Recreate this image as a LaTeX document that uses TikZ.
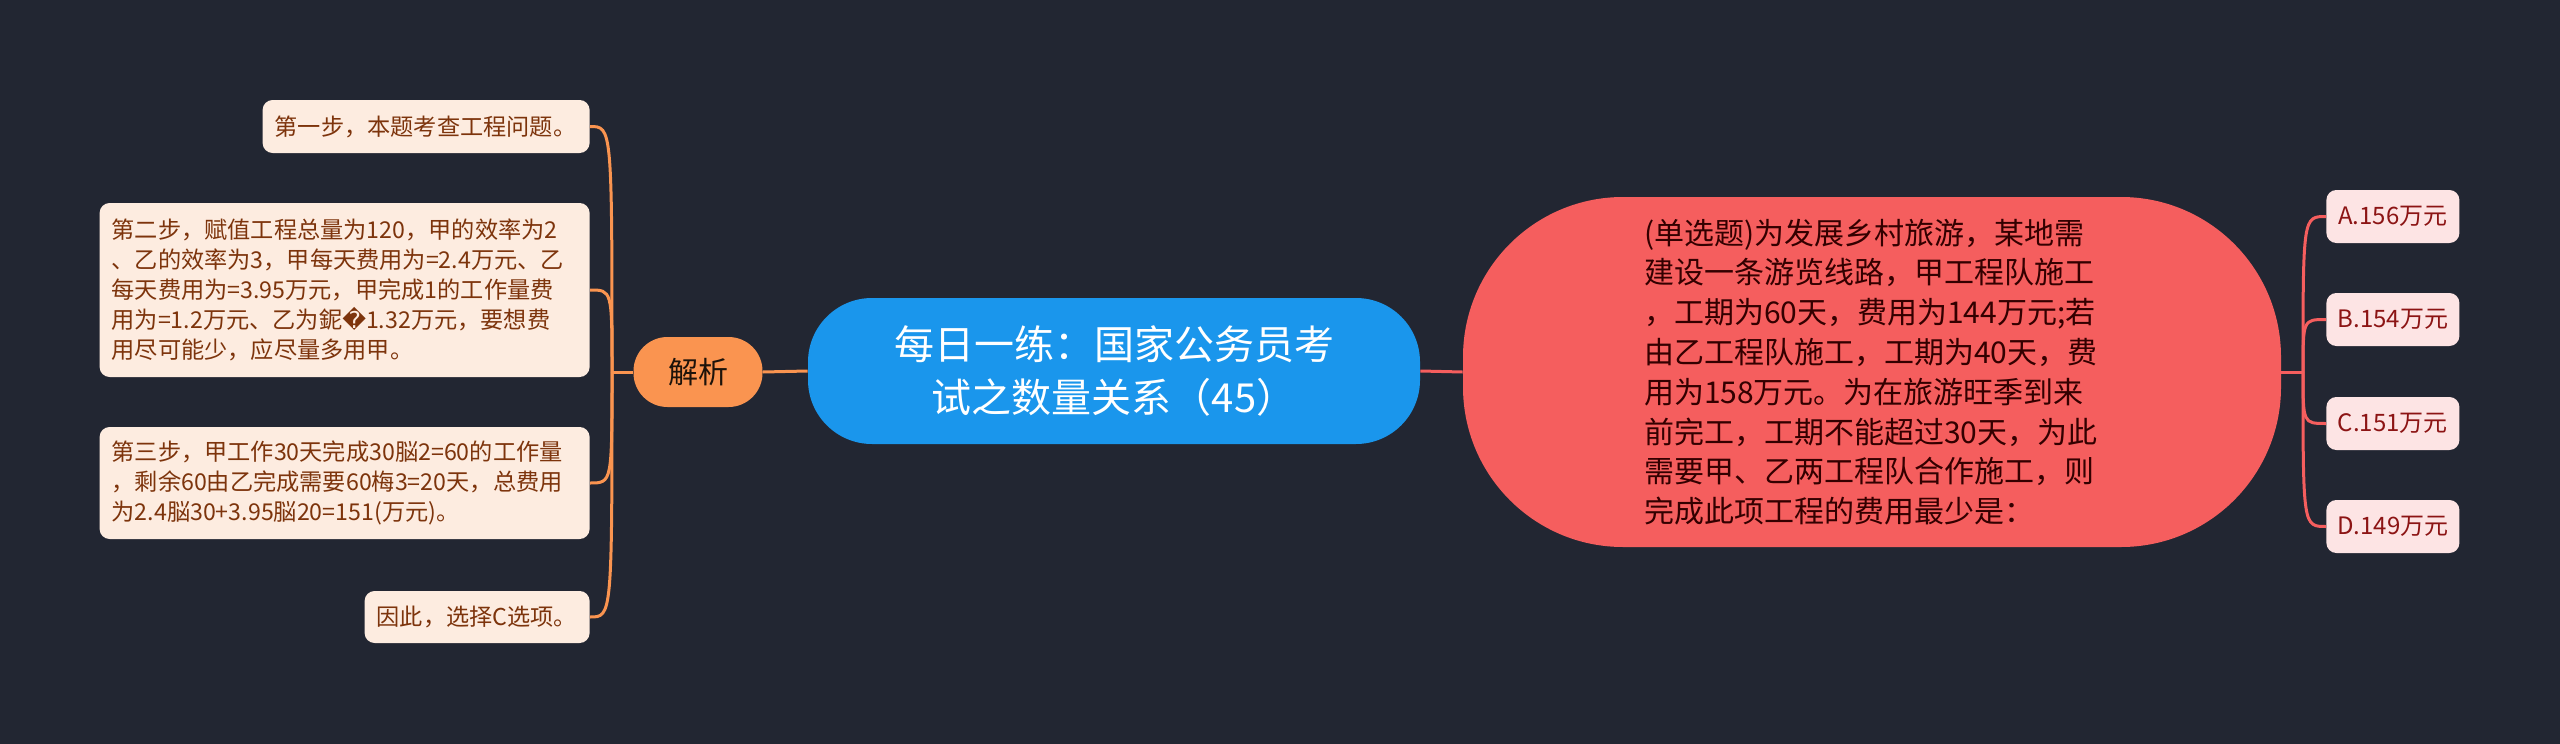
\documentclass[tikz,border=0pt]{standalone}
\usepackage{fontspec}
\usetikzlibrary{calc}
\newfontfamily\cjk{Noto Sans CJK SC}
\newfontfamily\dejavu{DejaVu Sans}
\definecolor{bgc}{RGB}{34,38,50}
\definecolor{bluec}{RGB}{26,150,236}
\definecolor{redc}{RGB}{245,94,94}
\definecolor{orangec}{RGB}{250,148,80}
\definecolor{peachc}{RGB}{253,236,224}
\definecolor{brownc}{RGB}{125,52,12}
\definecolor{pinkc}{RGB}{253,228,228}
\definecolor{darkredc}{RGB}{140,20,20}
\def\branch[#1](#2)(#3){\draw[#1] (#2) .. controls (#2 |- #3) .. (#3);}
\tikzset{
  leftbox/.style={fill=peachc, text=brownc, rounded corners=5pt, inner xsep=6pt, inner ysep=0pt,
    align=left, anchor=east, font=\cjk\fontsize{11.6}{15}\selectfont},
  ansbox/.style={fill=pinkc, text=darkredc, rounded corners=5pt, inner sep=0pt, anchor=west,
    minimum width=66.5pt, minimum height=26.5pt, font=\cjk\fontsize{12}{15}\selectfont},
  olink/.style={draw=orangec, line width=1.5pt},
  rlink/.style={draw=redc, line width=1.5pt}
}
\begin{document}
\begin{tikzpicture}[x=0.5pt, y=-0.5pt]
			%%%%% START %%%%%
			
			\fill[bgc] (0, 0) rectangle (2560, 744);
			\useasboundingbox (0, 0) rectangle (2560, 744);
			
			\node[fill=bluec, text=white, rounded corners=32pt, inner sep=0pt, align=center,
			  minimum width=306pt, minimum height=73pt, font=\cjk\fontsize{20}{26.7}\selectfont]
			  (title) at (1114, 371) {每日一练：国家公务员考\\试之数量关系（45）};
			
			\node[fill=orangec, text=black!85!brown, rounded corners=17pt, inner sep=0pt,
			  minimum width=64.5pt, minimum height=35pt, font=\cjk\fontsize{15}{18}\selectfont]
			  (jiexi) at (698, 372) {解析};
			
			\node[fill=redc, text=black!80!red, rounded corners=80pt, inner sep=0pt, align=left,
			  text width=228pt, minimum width=409pt, minimum height=175pt, font=\cjk\fontsize{15}{19.9}\selectfont]
			  (question) at (1872, 372) {(单选题)为发展乡村旅游，某地需\\建设一条游览线路，甲工程队施工\\，工期为60天，费用为144万元;若\\由乙工程队施工，工期为40天，费\\用为158万元。为在旅游旺季到来\\前完工，工期不能超过30天，为此\\需要甲、乙两工程队合作施工，则\\完成此项工程的费用最少是：};
			
			% left side
			\node[leftbox, text width=151.5pt, minimum height=26.5pt] (s1) at (590, 126.5) {第一步，本题考查工程问题。};
			\node[leftbox, text width=233pt, minimum height=87pt] (s2) at (590, 290) {第二步，赋值工程总量为120，甲的效率为2\\、乙的效率为3，甲每天费用为=2.4万元、乙\\每天费用为=3.95万元，甲完成1的工作量费\\用为=1.2万元、乙为鈮{\dejavu �}1.32万元，要想费\\用尽可能少，应尽量多用甲。};
			\node[leftbox, text width=233pt, minimum height=56pt] (s3) at (590, 483) {第三步，甲工作30天完成30脳2=60的工作量\\，剩余60由乙完成需要60梅3=20天，总费用\\为2.4脳30+3.95脳20=151(万元)。};
			\node[leftbox, text width=100.5pt, minimum height=26pt] (s4) at (590, 617) {因此，选择C选项。};
			
			% right side
			\node[ansbox] (a) at (2326, 216.5) {A.156万元};
			\node[ansbox] (b) at (2326, 319.5) {B.154万元};
			\node[ansbox] (c) at (2326, 423.5) {C.151万元};
			\node[ansbox] (d) at (2326, 526.5) {D.149万元};
			
			\coordinate (jl) at (612, 372);
			\coordinate (jr) at (2303, 372);
			
			\draw[olink] (title.west) -- (jiexi.east);
			\draw[olink] (jiexi.west) -- (jl);
			\branch[olink](jl)(s1.east);
			\branch[olink](jl)(s2.east);
			\branch[olink](jl)(s3.east);
			\branch[olink](jl)(s4.east);
			
			\draw[rlink] (title.east) -- (question.west);
			\draw[rlink] (question.east) -- (jr);
			\branch[rlink](jr)(a.west);
			\branch[rlink](jr)(b.west);
			\branch[rlink](jr)(c.west);
			\branch[rlink](jr)(d.west);
			
			%%%%% END %%%%%
\end{tikzpicture}
\end{document}
